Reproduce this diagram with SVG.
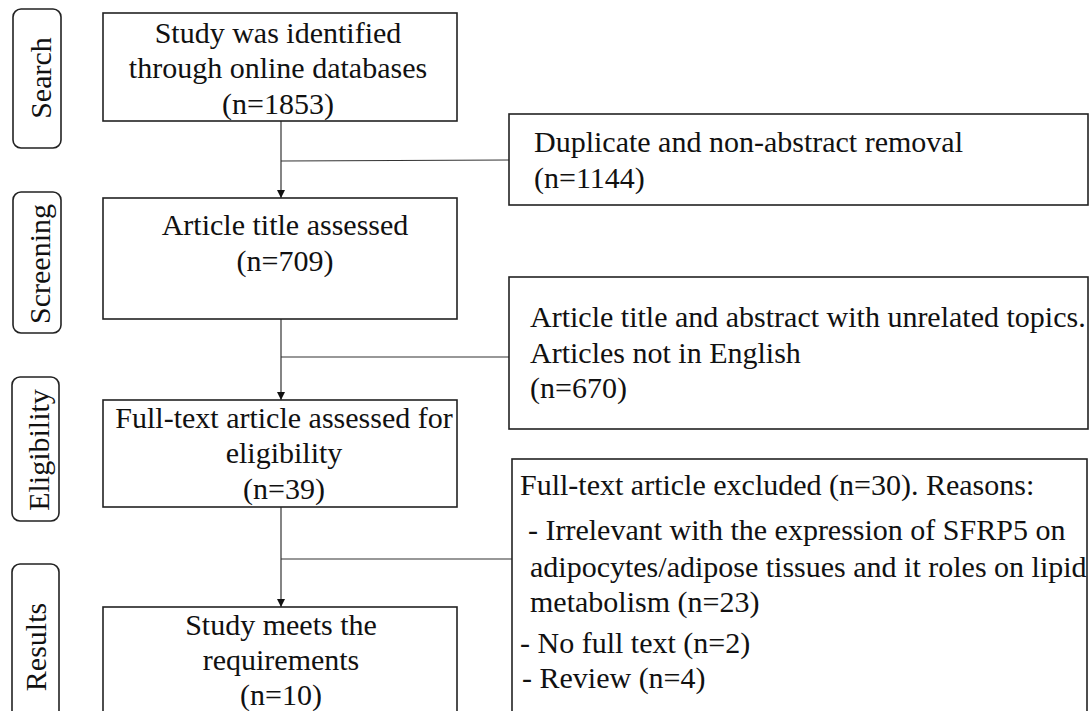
<svg xmlns="http://www.w3.org/2000/svg" width="1090" height="711" viewBox="0 0 1090 711">
<style>
.box{fill:#fff;stroke:#222;stroke-width:1.6}
.pill{fill:#fff;stroke:#222;stroke-width:1.6}
.con{fill:none;stroke:#333;stroke-width:1.2}
</style>
<defs>
<marker id="ah" viewBox="0 0 10 10" refX="10" refY="5" markerWidth="8" markerHeight="8" markerUnits="userSpaceOnUse" orient="auto">
<path d="M0,0 L10,5 L0,10 Z" fill="#111"/>
</marker>
</defs>
<rect width="1090" height="711" fill="#fff"/>

<g id="stage-search" font-family="Liberation Serif, serif" font-size="30" fill="#111" text-anchor="middle">
<rect class="pill" x="13" y="9" width="48" height="139" rx="8"/>
<text transform="translate(51,78) rotate(-90)">Search</text>
</g>
<g id="stage-screening" font-family="Liberation Serif, serif" font-size="30" fill="#111" text-anchor="middle">
<rect class="pill" x="13" y="192" width="48" height="141" rx="8"/>
<text transform="translate(50,264) rotate(-90)">Screening</text>
</g>
<g id="stage-eligibility" font-family="Liberation Serif, serif" font-size="30" fill="#111" text-anchor="middle">
<rect class="pill" x="12" y="377" width="47" height="144" rx="8"/>
<text transform="translate(49,450) rotate(-90)">Eligibility</text>
</g>
<g id="stage-results" font-family="Liberation Serif, serif" font-size="30" fill="#111" text-anchor="middle">
<rect class="pill" x="12" y="564" width="47" height="170" rx="8"/>
<text transform="translate(46,647) rotate(-90)">Results</text>
</g>

<g id="connectors">
<line class="con" x1="281" y1="121" x2="281" y2="198" marker-end="url(#ah)"/>
<line class="con" x1="281" y1="161" x2="509" y2="160" stroke="#666"/>
<line class="con" x1="281" y1="319" x2="281" y2="400" marker-end="url(#ah)"/>
<line class="con" x1="281" y1="357" x2="515" y2="357"/>
<line class="con" x1="281" y1="507" x2="281" y2="607" marker-end="url(#ah)"/>
<line class="con" x1="281" y1="559" x2="512" y2="559"/>
</g>

<g id="node-identified" font-family="Liberation Serif, serif" font-size="30" fill="#111" text-anchor="middle">
<rect class="box" x="103" y="13" width="354" height="108"/>
<text x="278" y="43">Study was identified</text>
<text x="278" y="78">through online databases</text>
<text x="278" y="114">(n=1853)</text>
</g>
<g id="node-title" font-family="Liberation Serif, serif" font-size="30" fill="#111" text-anchor="middle">
<rect class="box" x="103" y="198" width="354" height="121"/>
<text x="285" y="235">Article title assessed</text>
<text x="285" y="271">(n=709)</text>
</g>
<g id="node-fulltext" font-family="Liberation Serif, serif" font-size="30" fill="#111" text-anchor="middle">
<rect class="box" x="103" y="400" width="354" height="107"/>
<text x="284" y="428">Full-text article assessed for</text>
<text x="284" y="463">eligibility</text>
<text x="284" y="499">(n=39)</text>
</g>
<g id="node-included" font-family="Liberation Serif, serif" font-size="30" fill="#111" text-anchor="middle">
<rect class="box" x="103" y="607" width="354" height="120"/>
<text x="281" y="635">Study meets the</text>
<text x="281" y="670">requirements</text>
<text x="281" y="705">(n=10)</text>
</g>

<g id="node-duplicate" font-family="Liberation Serif, serif" font-size="30" fill="#111">
<rect class="box" x="509" y="114" width="579" height="91"/>
<text x="534" y="152">Duplicate and non-abstract removal</text>
<text x="534" y="188">(n=1144)</text>
</g>
<g id="node-unrelated" font-family="Liberation Serif, serif" font-size="30" fill="#111">
<rect class="box" x="509" y="277" width="579" height="152"/>
<text x="530" y="327">Article title and abstract with unrelated topics.</text>
<text x="530" y="363">Articles not in English</text>
<text x="530" y="398">(n=670)</text>
</g>
<g id="node-excluded" font-family="Liberation Serif, serif" font-size="30" fill="#111">
<rect class="box" x="512" y="459" width="575" height="270"/>
<text x="520" y="495">Full-text article excluded (n=30). Reasons:</text>
<text x="528" y="540">- Irrelevant with the expression of SFRP5 on</text>
<text x="530" y="577">adipocytes/adipose tissues and it roles on lipid</text>
<text x="530" y="612">metabolism (n=23)</text>
<text x="520" y="653">- No full text (n=2)</text>
<text x="522" y="688">- Review (n=4)</text>
</g>
</svg>
